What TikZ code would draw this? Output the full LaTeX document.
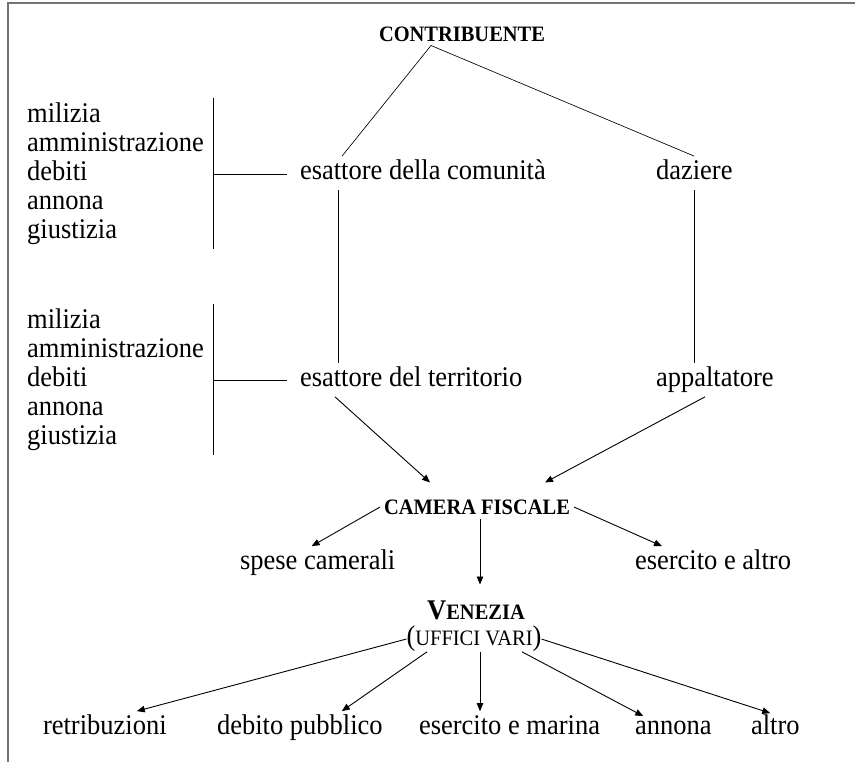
\documentclass[tikz,border=0pt]{standalone}
\usepackage{fontspec}
\setmainfont{Liberation Serif}[FakeStretch = 0.93]
\usepackage{tikz}
\usetikzlibrary{arrows.meta,calc}

\newcommand{\bodysize}{\fontsize{28.5pt}{29pt}\selectfont}
\newcommand{\pseudosc}[1]{{\fontsize{22pt}{24pt}\selectfont #1}}

\begin{document}
\begin{tikzpicture}[x = 1pt, y = -1pt, font = \bodysize]
\tikzset{
	word node/.style = {inner sep = 0, outer sep = 4pt, text height = 19.5pt, text depth = 6.2pt, anchor = west},
	caps node/.style = {inner sep = 0, outer sep = 4pt, text height = 15pt, text depth = 0pt, font = \bodysize\bfseries},
	list node/.style = {inner sep = 0, align = left, anchor = west},
	flow/.style = {-{Triangle[length = 8pt, width = 6.5pt]}, line width = 0.9pt},
	link/.style = {line width = 0.65pt},
	frame/.style = {draw = black!55, line width = 1.4pt},
}

\useasboundingbox (0,0) rectangle (855,762);
\draw [frame] (855,3) -- (8,3) -- (8,762);

\node (contrib) [caps node] at (462,34) {\pseudosc{CONTRIBUENTE}};
\node (comunita) [word node] at (296,173) {esattore della comunità};
\node (daziere) [word node] at (652,173) {daziere};
\node (territorio) [word node] at (296,380) {esattore del territorio};
\node (appalt) [word node] at (652,380) {appaltatore};

\node (list1) [list node] at (27,174) {milizia\\amministrazione\\debiti\\annona\\giustizia};
\node (list2) [list node] at (27,380) {milizia\\amministrazione\\debiti\\annona\\giustizia};

\node (camera) [caps node] at (477,507) {\pseudosc{CAMERA FISCALE}};
\node (spese) [word node] at (236,563) {spese camerali};
\node (esaltro) [word node] at (631,563) {esercito e altro};

\node (venezia) [caps node, text height = 19pt] at (476,610) {V\pseudosc{ENEZIA}};
\node (uffici) [word node, anchor = center, outer sep = 0] at (474,639) {(\pseudosc{UFFICI VARI})};

\node (retrib) [word node] at (39,728) {retribuzioni};
\node (debito) [word node] at (213,728) {debito pubblico};
\node (marina) [word node] at (415,728) {esercito e marina};
\node (annona) [word node] at (631,728) {annona};
\node (altro) [word node] at (747,728) {altro};

\draw [link] ([xshift = -31pt]contrib.south) -- ([xshift = 46pt]comunita.north west);
\draw [link] ([xshift = -31pt]contrib.south) -- (daziere.north);
\draw [link] ([xshift = 42pt]comunita.south west) -- ([xshift = 42pt]comunita.south west |- territorio.north);
\draw [link] (daziere.south) -- (daziere.south |- appalt.north);

\draw [link] ([xshift = 9pt, yshift = 5pt]list1.north east) -- ([xshift = 9pt, yshift = -4pt]list1.south east);
\draw [link] ([xshift = 9pt]list1.east) -- ([xshift = -9pt]list1.east -| comunita.west);
\draw [link] ([xshift = 9pt, yshift = 5pt]list2.north east) -- ([xshift = 9pt, yshift = -4pt]list2.south east);
\draw [link] ([xshift = 9pt]list2.east) -- ([xshift = -9pt]list2.east -| territorio.west);

\draw [flow] ([xshift = 39pt]territorio.south west) -- ([xshift = -47pt, yshift = 13pt]camera.north);
\draw [flow] ([xshift = 53pt]appalt.south west) -- ([xshift = 68pt, yshift = 13pt]camera.north);
\draw [flow] (camera.west) -- ([xshift = -6pt]spese.north);
\draw [flow] (camera.east) -- ([xshift = 31pt]esaltro.north west);
\draw [flow] ([xshift = 3pt]camera.south) -- ([xshift = 3pt, yshift = 12pt]camera.south |- venezia.north);

\draw [flow] (uffici.west) -- ([xshift = 32pt]retrib.north);
\draw [flow] ([xshift = -47pt]uffici.south) -- ([xshift = 42pt]debito.north);
\draw [flow] ([xshift = 6pt]uffici.south) -- ([xshift = 6pt]uffici.south |- marina.north);
\draw [flow] ([xshift = 48pt]uffici.south) -- ([xshift = -30pt, yshift = -5pt]annona.north);
\draw [flow] (uffici.east) -- ([xshift = -5pt, yshift = -2pt]altro.north);

\end{tikzpicture}
\end{document}
